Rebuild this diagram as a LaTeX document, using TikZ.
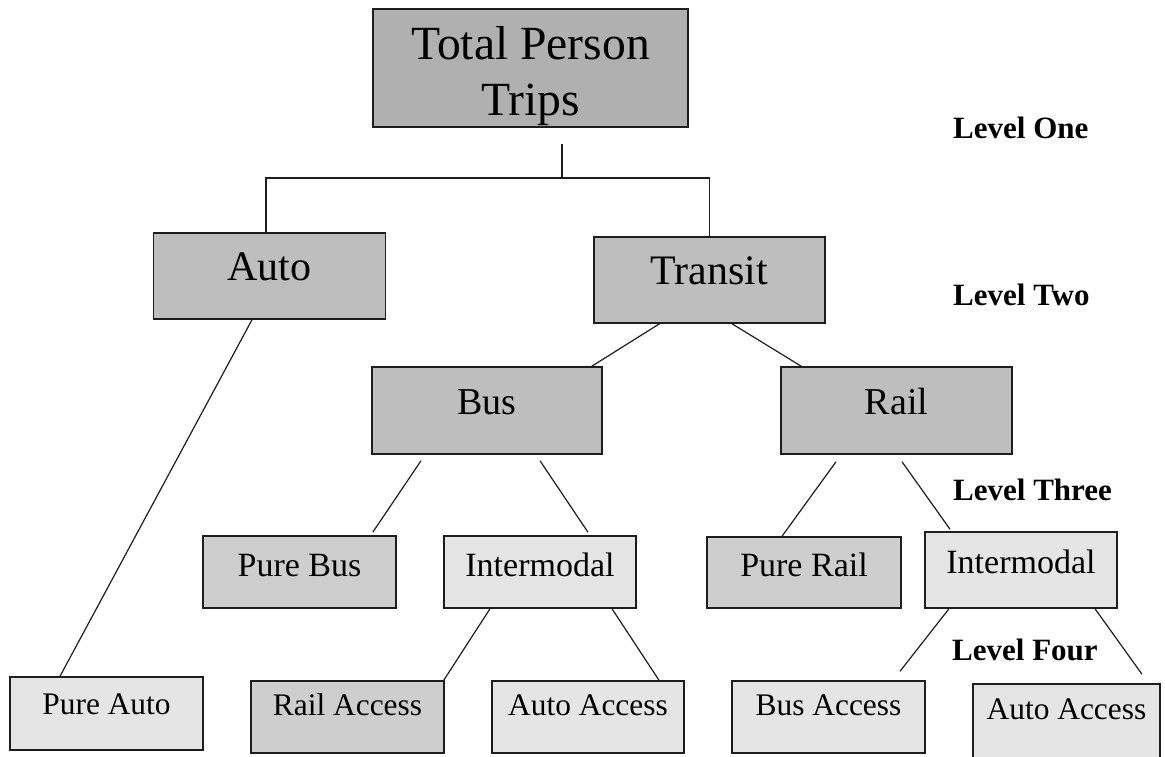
\documentclass[tikz,border=0pt]{standalone}
\usepackage{fontspec}
\setmainfont{Liberation Serif}
\definecolor{gA}{RGB}{176,176,176}
\definecolor{gB}{RGB}{190,190,190}
\definecolor{gC}{RGB}{206,206,206}
\definecolor{gD}{RGB}{229,229,229}
\definecolor{ink}{RGB}{30,30,30}
\tikzset{
  box/.style={draw=ink, line width=1.5pt, inner sep=0pt, anchor=center},
  topbox/.style={box, fill=gA, minimum width=315pt, minimum height=118pt,
    align=center, font=\fontsize{47.6}{56}\selectfont},
  modebox/.style={box, fill=gB, minimum width=232pt, minimum height=86pt,
    font=\fontsize{42}{50}\selectfont, text height=27.5pt, text depth=19pt},
  subbox/.style={box, fill=gB, minimum width=230pt, minimum height=87pt,
    font=\fontsize{38}{46}\selectfont, text height=24.9pt, text depth=17pt},
  leafbox/.style={box, minimum width=193pt, minimum height=72pt,
    font=\fontsize{34}{40}\selectfont, text height=22.3pt, text depth=14pt},
  accbox/.style={box, minimum width=193pt, minimum height=72pt,
    font=\fontsize{31.4}{38}\selectfont, text height=20.6pt, text depth=23pt},
  lvl/.style={anchor=west, inner sep=0pt, font=\bfseries\fontsize{31}{36}\selectfont,
    text height=20.4pt, text depth=0pt},
  conn/.style={draw=ink, line width=1.2pt}
}
\begin{document}
\begin{tikzpicture}[x=1pt,y=-1pt]
\useasboundingbox[fill=white] (0,0) rectangle (1165,756);

% nodes
\node[topbox] (total) at (530.5,68) {\rule{0pt}{50pt}Total Person\\Trips};
\node[modebox] (auto) at (269.5,276) {Auto};
\node[modebox, minimum width=231pt] (transit) at (709.5,280) {Transit};
\node[subbox] (bus) at (487,410.5) {Bus};
\node[subbox, minimum width=231pt] (rail) at (896.5,410.5) {Rail};
\node[leafbox, fill=gC] (purebus) at (299.5,572) {Pure Bus};
\node[leafbox, fill=gD, minimum width=192pt] (interbus) at (540,572) {Intermodal};
\node[leafbox, fill=gC, minimum width=194pt, minimum height=71pt] (purerail) at (804,572.5) {Pure Rail};
\node[leafbox, fill=gD, minimum width=192pt, minimum height=76pt, text depth=16pt] (interrail) at (1021,570) {Intermodal};
\node[accbox, fill=gD, minimum height=73pt, text depth=19pt] (pureauto) at (106.5,713.5) {Pure Auto};
\node[accbox, fill=gC] (railacc) at (347.5,717) {Rail Access};
\node[accbox, fill=gD, minimum width=192pt] (autoacc) at (588,717) {Auto Access};
\node[accbox, fill=gD] (busacc) at (828.5,717) {Bus Access};
\node[accbox, fill=gD, minimum width=187pt, minimum height=74pt] (autoacc2) at (1066.5,721) {Auto Access};

% level labels
\node[lvl] (l1) at (953,128) {Level One};
\node[lvl] (l2) at (953,295) {Level Two};
\node[lvl] (l3) at (953,490) {Level Three};
\node[lvl] (l4) at (952,650) {Level Four};

% connectors
\coordinate (j) at (562,178);
\draw[conn] ([xshift=31.5pt,yshift=-16pt]total.south) -- (j);
\draw[conn] ([xshift=-3.5pt]auto.north) |- (j) -| (transit.north);
\draw[conn] ([xshift=-17.5pt]auto.south) -- ([xshift=-46.5pt]pureauto.north);
\draw[conn] ([xshift=-50pt]transit.south) -- ([xshift=-11pt]bus.north east);
\draw[conn] ([xshift=22.5pt]transit.south) -- ([xshift=21pt]rail.north west);
\draw[conn] ([xshift=-66pt,yshift=-6pt]bus.south) -- ([xshift=-24pt,yshift=3pt]purebus.north east);
\draw[conn] ([xshift=53pt,yshift=-6pt]bus.south) -- ([xshift=48pt,yshift=3pt]interbus.north);
\draw[conn] ([xshift=-60.5pt,yshift=-7pt]rail.south) -- ([xshift=-22pt]purerail.north);
\draw[conn] ([xshift=5.5pt,yshift=-7pt]rail.south) -- ([xshift=-71pt,yshift=2pt]interrail.north);
\draw[conn] ([xshift=-50pt]interbus.south) -- ([xshift=-1pt]railacc.north east);
\draw[conn] ([xshift=72pt]interbus.south) -- ([xshift=71pt]autoacc.north);
\draw[conn] ([xshift=-72pt]interrail.south) -- ([xshift=71.5pt,yshift=9pt]busacc.north);
\draw[conn] ([xshift=74pt]interrail.south) -- ([xshift=75.5pt,yshift=9pt]autoacc2.north);
\end{tikzpicture}
\end{document}
